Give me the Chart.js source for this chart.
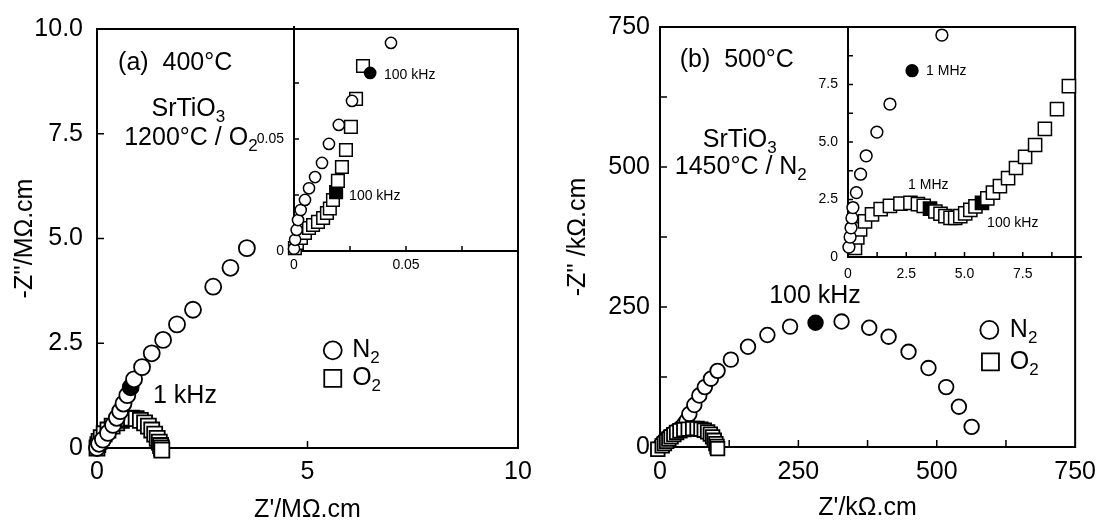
<!DOCTYPE html>
<html><head><meta charset="utf-8">
<script src="https://cdn.jsdelivr.net/npm/chart.js@4.4.1/dist/chart.umd.min.js"></script>
<style>
html,body{margin:0;padding:0;background:#fff;}
#wrap{position:relative;width:1106px;height:525px;overflow:hidden;background:#fff;}
canvas{position:absolute;}
</style></head><body>
<div id="wrap">
<canvas id="mainA" width="553" height="525" style="left:0px;top:0px;width:553px;height:525px"></canvas>
<canvas id="mainB" width="553" height="525" style="left:553px;top:0px;width:553px;height:525px"></canvas>
<canvas id="insetA" width="290" height="290" style="left:250px;top:0px;width:290px;height:290px"></canvas>
<canvas id="insetB" width="303" height="295" style="left:803px;top:0px;width:303px;height:295px"></canvas>
</div>
<script>
// ---------------- DATA ----------------
// Panel (a) 400°C, main plot (MΩ.cm)
const mainA_N2 = [[0,0],[0.05,0.1],[0.14,0.2],[0.26,0.36],[0.38,0.55],[0.47,0.72],[0.55,0.88],[0.63,1.06],[0.72,1.26],[0.8,1.45],[0.88,1.64],[1.07,1.93],[1.3,2.26],[1.57,2.58],[1.9,2.95],[2.28,3.3],[2.76,3.85],[3.17,4.3],[3.56,4.77]];
const mainA_N2_filled = [9];
const mainA_O2 = [[0,0],[0.02,0.08],[0.05,0.16],[0.1,0.25],[0.17,0.34],[0.26,0.43],[0.36,0.52],[0.47,0.6],[0.58,0.66],[0.7,0.7],[0.82,0.71],[0.93,0.7],[1.03,0.66],[1.13,0.6],[1.22,0.52],[1.3,0.43],[1.37,0.33],[1.43,0.23],[1.48,0.14],[1.51,0.06],[1.53,0.0],[1.54,-0.05]];
const mainA_O2_filled = [];
// Panel (a) inset (MΩ.cm)
const insetA_N2 = [[0,0.001],[0.0005,0.005],[0.0012,0.0094],[0.0018,0.0138],[0.003,0.0183],[0.0049,0.0228],[0.0067,0.028],[0.0094,0.033],[0.0125,0.0393],[0.0156,0.0478],[0.02,0.0563],[0.0259,0.067],[0.034,0.0795],[0.0433,0.0929]];
const insetA_N2_filled = [12];
const insetA_O2 = [[0.0004,0.0013],[0.0013,0.0036],[0.0031,0.0058],[0.0049,0.008],[0.0067,0.0103],[0.0085,0.0116],[0.0107,0.013],[0.013,0.0147],[0.0147,0.017],[0.016,0.019],[0.0174,0.0228],[0.0188,0.0263],[0.0196,0.0313],[0.0214,0.0375],[0.0232,0.0451],[0.0254,0.0554],[0.0277,0.0679],[0.0308,0.0826]];
const insetA_O2_filled = [11];
// Panel (b) 500°C, main plot (kΩ.cm)
const mainB_N2 = [[0,0],[2,4],[5,9],[10,14],[16,19],[23,24],[30,29],[37,34],[43,40],[48,47],[53,59],[62,75],[71,92],[81,107],[92,122],[104,136],[128,156],[159,179],[194,200],[235,215],[281,222],[328,224],[378,213],[413,197],[449,170],[485,141],[517,107],[540,72],[563,36]];
const mainB_N2_filled = [20];
const mainB_O2 = [[-4,-4],[4,2],[8,6],[12,10],[16,14],[20,18],[25,22],[30,26],[36,29],[43,31],[51,32],[59,33],[67,33],[74,32],[80,30],[86,27],[91,23],[95,18],[98,12],[101,6],[103,1],[104,-3]];
const mainB_O2_filled = [];
// Panel (b) inset (kΩ.cm)
const insetB_N2 = [[0.04,0.43],[0.09,0.87],[0.13,1.27],[0.17,1.7],[0.21,2.15],[0.36,2.8],[0.54,3.6],[0.78,4.4],[1.24,5.43],[1.8,6.65],[2.75,8.1],[4.03,9.65]];
const insetB_N2_filled = [10];
const insetB_O2 = [[0.3,0.4],[0.4,0.85],[0.52,1.2],[0.73,1.55],[1.03,1.85],[1.4,2.08],[1.8,2.22],[2.25,2.32],[2.68,2.35],[3.0,2.3],[3.25,2.22],[3.52,2.1],[3.75,1.98],[3.97,1.88],[4.18,1.78],[4.4,1.7],[4.6,1.7],[4.82,1.78],[5.03,1.9],[5.25,2.05],[5.47,2.2],[5.75,2.35],[5.98,2.55],[6.22,2.8],[6.52,3.08],[6.87,3.43],[7.21,3.87],[7.6,4.35],[8.03,4.87],[8.45,5.57],[8.97,6.43],[9.48,7.43]];
const insetB_O2_filled = [11,21];

// ---------------- TICKS ----------------
const mainA_xTicks = [0,5,10];            const mainA_xLabels = ['0','5','10'];
const mainA_yTicks = [0,2.5,5,7.5,10];    const mainA_yLabels = ['0','2.5','5.0','7.5','10.0'];
const insetA_ticks = [0,0.025,0.05,0.075,0.1]; const insetA_labels = ['0','','0.05','',''];
const mainB_ticks = [0,125,250,375,500,625,750]; const mainB_labels = ['0','','250','','500','','750'];
const insetB_ticks = [0,1.25,2.5,3.75,5,6.25,7.5,8.75,10]; const insetB_labels = ['0','','2.5','','5.0','','7.5','',''];

// ---------------- HELPERS ----------------
const FAM = "'Liberation Sans', Arial, Helvetica, sans-serif";
Chart.defaults.font.family = FAM;
Chart.defaults.color = '#000';

function fills(n, idx){ return Array.from({length:n}, (_,i)=> idx.includes(i) ? '#000' : '#fff'); }
function ds(label, data, style, r, filled, bw, order){
  return {label, data: data.map(([x,y])=>({x,y})), pointStyle: style, pointRadius: r, pointHoverRadius: r,
    pointBackgroundColor: fills(data.length, filled), pointBorderColor:'#000', pointBorderWidth: bw,
    showLine:false, clip:false, order};
}
function axis(o){
  return {
    type:'linear', position:o.pos, min:o.min, max:o.max,
    afterBuildTicks: s => { s.ticks = o.ticks.map(v=>({value:v})); },
    afterFit: s => { if (o.pos==='left') s.width = o.size; else s.height = o.size; },
    ticks:{autoSkip:false, maxRotation:0, minRotation:0, padding:o.pad, font:{size:o.fs}, color:'#000',
      callback:(v,i)=>o.labels[i]},
    grid:{display:false, drawTicks:false},
    border:{display:false},
    title: o.title ? {display:true, text:o.title, font:{size:o.ts}, padding:o.tpad, color:'#000'} : {display:false}
  };
}
function drawRich(ctx, parts, px, py, size, align){
  let w = 0;
  const ws = parts.map(([t,sub])=>{ ctx.font = (sub?Math.round(size*0.68):size)+'px '+FAM; const m = ctx.measureText(t).width; w += m; return m; });
  let x = align==='center' ? px - w/2 : px;
  ctx.textBaseline='middle'; ctx.textAlign='left'; ctx.fillStyle='#000';
  parts.forEach(([t,sub],i)=>{ ctx.font = (sub?Math.round(size*0.68):size)+'px '+FAM; ctx.fillText(t, x, sub ? py+size*0.33 : py); x += ws[i]; });
}
function deco(full, tickLen, lw, notes, legend){
  return {
    id:'deco',
    beforeDatasetsDraw(chart){
      const {ctx, chartArea:a, scales:{x,y}} = chart;
      ctx.save(); ctx.strokeStyle='#000'; ctx.lineWidth=lw; ctx.lineCap='square';
      ctx.beginPath();
      if (full) ctx.rect(a.left,a.top,a.right-a.left,a.bottom-a.top);
      else { ctx.moveTo(a.left,a.top); ctx.lineTo(a.left,a.bottom); ctx.lineTo(a.right,a.bottom); }
      ctx.stroke();
      ctx.lineWidth = Math.max(1.2, lw*0.75); ctx.lineCap='butt';
      ctx.beginPath();
      x.ticks.forEach(t=>{ if (t.value<=x.min || t.value>=x.max) return; const p=x.getPixelForValue(t.value); ctx.moveTo(p,a.bottom); ctx.lineTo(p,a.bottom-tickLen); });
      y.ticks.forEach(t=>{ if (t.value<=y.min || t.value>=y.max) return; const p=y.getPixelForValue(t.value); ctx.moveTo(a.left,p); ctx.lineTo(a.left+tickLen,p); });
      ctx.stroke(); ctx.restore();
    },
    afterDraw(chart){
      const {ctx, scales:{x,y}} = chart;
      ctx.save();
      (notes||[]).forEach(n=> drawRich(ctx, n.parts, x.getPixelForValue(n.x), y.getPixelForValue(n.y), n.size, n.align||'left'));
      (legend||[]).forEach(l=>{
        const px = x.getPixelForValue(l.x), py = y.getPixelForValue(l.y);
        ctx.strokeStyle='#000'; ctx.lineWidth=1.8; ctx.fillStyle='#fff';
        ctx.beginPath();
        if (l.style==='circle') ctx.arc(px,py,l.r,0,Math.PI*2); else ctx.rect(px-l.r,py-l.r,2*l.r,2*l.r);
        ctx.fill(); ctx.stroke();
        drawRich(ctx, l.parts, x.getPixelForValue(l.tx), py, l.size, 'left');
      });
      ctx.restore();
    }
  };
}
const baseOpts = (pad, xs, ys) => ({
  responsive:false, animation:false, devicePixelRatio:1,
  layout:{padding:pad},
  plugins:{legend:{display:false}, tooltip:{enabled:false}},
  events:[],
  scales:{x:xs, y:ys}
});

// ---------------- PANEL (a) MAIN ----------------
new Chart(document.getElementById('mainA'), {
  type:'scatter',
  data:{datasets:[
    ds('N2', mainA_N2, 'circle', 8, mainA_N2_filled, 1.8, 0),
    ds('O2', mainA_O2, 'rect', 10.6, mainA_O2_filled, 1.8, 1)
  ]},
  options: baseOpts({top:27,right:35,left:0,bottom:0},
    axis({pos:'bottom', min:0, max:10, ticks:mainA_xTicks, labels:mainA_xLabels, size:77, pad:9, fs:25, title:"Z'/MΩ.cm", ts:25, tpad:{top:0,bottom:0}}),
    axis({pos:'left', min:0, max:10, ticks:mainA_yTicks, labels:mainA_yLabels, size:97, pad:14, fs:25, title:"-Z''/MΩ.cm", ts:25, tpad:{top:10,bottom:0}})),
  plugins:[deco(true, 7, 2, [
    {parts:[['(a)  400°C']], x:0.5, y:9.19, size:25},
    {parts:[['SrTiO'],['3',1]], x:2.17, y:8.1, size:25, align:'center'},
    {parts:[['1200°C / O'],['2',1]], x:2.23, y:7.39, size:25, align:'center'},
    {parts:[['1 kHz']], x:1.33, y:1.24, size:25}
  ], [
    {style:'circle', x:5.6, y:2.33, r:9, tx:6.06, parts:[['N'],['2',1]], size:25},
    {style:'rect', x:5.6, y:1.66, r:8.5, tx:6.06, parts:[['O'],['2',1]], size:25}
  ])]
});

// ---------------- PANEL (a) INSET ----------------
new Chart(document.getElementById('insetA'), {
  type:'scatter',
  data:{datasets:[
    ds('N2', insetA_N2, 'circle', 5.6, insetA_N2_filled, 1.5, 0),
    ds('O2', insetA_O2, 'rect', 8.9, insetA_O2_filled, 1.5, 1)
  ]},
  options: baseOpts({top:27,right:22,left:0,bottom:0},
    axis({pos:'bottom', min:0, max:0.1, ticks:insetA_ticks, labels:insetA_labels, size:39, pad:6, fs:14}),
    axis({pos:'left', min:0, max:0.1, ticks:insetA_ticks, labels:insetA_labels, size:44, pad:10, fs:14})),
  plugins:[deco(false, 5, 2, [
    {parts:[['100 kHz']], x:0.0402, y:0.0786, size:14},
    {parts:[['100 kHz']], x:0.0246, y:0.0246, size:14}
  ], [])]
});

// ---------------- PANEL (b) MAIN ----------------
new Chart(document.getElementById('mainB'), {
  type:'scatter',
  data:{datasets:[
    ds('O2', mainB_O2, 'rect', 9.6, mainB_O2_filled, 1.8, 0),
    ds('N2', mainB_N2, 'circle', 7.3, mainB_N2_filled, 1.8, 1)
  ]},
  options: baseOpts({top:27,right:25,left:0,bottom:0},
    axis({pos:'bottom', min:0, max:750, ticks:mainB_ticks, labels:mainB_labels, size:78, pad:10, fs:25, title:"Z'/kΩ.cm", ts:25, tpad:{top:0,bottom:2}}),
    axis({pos:'left', min:0, max:750, ticks:mainB_ticks, labels:mainB_labels, size:107, pad:10, fs:25, title:"-Z'' /kΩ.cm", ts:25, tpad:{top:10,bottom:0}})),
  plugins:[deco(true, 7, 2, [
    {parts:[['(b)  500°C']], x:35.6, y:691, size:25},
    {parts:[['SrTiO'],['3',1]], x:144, y:548, size:25, align:'center'},
    {parts:[['1450°C / N'],['2',1]], x:146, y:500, size:25, align:'center'},
    {parts:[['100 kHz']], x:280, y:270, size:25, align:'center'}
  ], [
    {style:'circle', x:595, y:209, r:9, tx:632, parts:[['N'],['2',1]], size:25},
    {style:'rect', x:597, y:152, r:8.5, tx:632, parts:[['O'],['2',1]], size:25}
  ])]
});

// ---------------- PANEL (b) INSET ----------------
new Chart(document.getElementById('insetB'), {
  type:'scatter',
  data:{datasets:[
    ds('N2', insetB_N2, 'circle', 5.9, insetB_N2_filled, 1.5, 0),
    ds('O2', insetB_O2, 'rect', 9.3, insetB_O2_filled, 1.5, 1)
  ]},
  options: baseOpts({top:27,right:25,left:0,bottom:0},
    axis({pos:'bottom', min:0, max:10, ticks:insetB_ticks, labels:insetB_labels, size:38, pad:9, fs:14}),
    axis({pos:'left', min:0, max:10, ticks:insetB_ticks, labels:insetB_labels, size:45, pad:10, fs:14})),
  plugins:[deco(false, 5, 2, [
    {parts:[['1 MHz']], x:3.35, y:8.09, size:14},
    {parts:[['1 MHz']], x:2.58, y:3.13, size:14},
    {parts:[['100 kHz']], x:5.97, y:1.48, size:14}
  ], [])]
});
</script>
</body></html>
